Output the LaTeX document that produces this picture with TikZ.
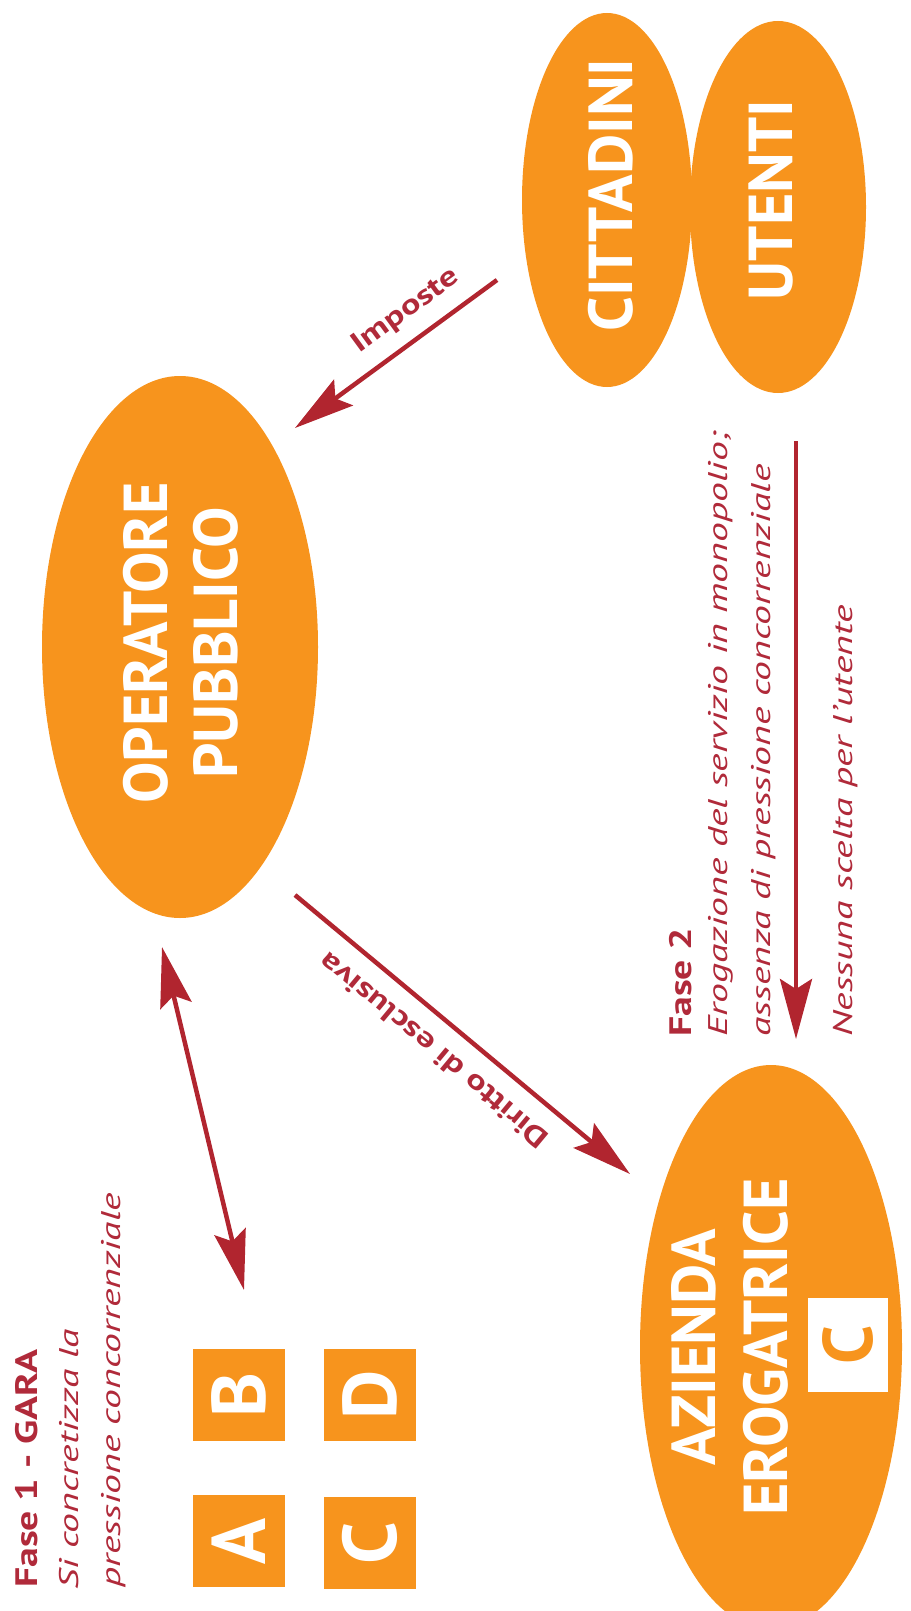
\documentclass[tikz,border=0pt]{standalone}
\usepackage{fontspec}
\setmainfont{PT Sans}
\newfontfamily\phasefont[FakeStretch=1.47]{PT Sans}
\newfontfamily\phaseboldfont[FakeStretch=1.28]{PT Sans}
\newfontfamily\labelfont[FakeStretch=1.3]{PT Sans}
\usetikzlibrary{arrows.meta,shapes.geometric}
\definecolor{orng}{HTML}{F7941D}
\definecolor{dred}{HTML}{B1252F}
\definecolor{tred}{HTML}{B02A3A}
\tikzset{
  blob/.style={ellipse, fill=orng, inner sep=0pt},
  bigtxt/.style={text=white, font=\fontsize{62}{62}\selectfont\bfseries, rotate=90, anchor=base, inner sep=0pt},
  letterbox/.style={fill=orng, text=white, minimum width=92pt, minimum height=92pt, inner sep=0pt, rotate=90, font=\fontsize{76}{76}\selectfont\bfseries},
  conn/.style={draw=dred, line width=4.5pt, -{Stealth[length=60pt,width=32pt,inset=10pt]}},
  conn2/.style={draw=dred, line width=4.5pt, {Stealth[length=60pt,width=32pt,inset=10pt]}-{Stealth[length=60pt,width=32pt,inset=10pt]}},
  lbl/.style={text=tred, font=\labelfont\fontsize{28}{28}\selectfont\bfseries, anchor=base, inner sep=0pt},
  faseb/.style={text=tred, font=\phaseboldfont\fontsize{31}{31}\selectfont\bfseries, rotate=90, anchor=base west, inner sep=0pt},
  fasei/.style={text=tred, font=\phasefont\fontsize{27}{27}\selectfont\itshape, rotate=90, anchor=base west, inner sep=0pt}
}
\begin{document}
\begin{tikzpicture}[x=1pt,y=-1pt]
\useasboundingbox (0,0) rectangle (910,1611);
\clip (0,0) rectangle (910,1611);
% ellipses
\node[blob, minimum width=276pt, minimum height=542pt] (op) at (180,647) {};
\node[blob, minimum width=170pt, minimum height=374pt] (cit) at (607,200) {};
\node[blob, minimum width=176pt, minimum height=372pt] (ute) at (778,207) {};
\node[blob, minimum width=262pt, minimum height=564pt] (az) at (771,1347) {};
% ellipse texts
\node[bigtxt] (opt1) at (167,643) {OPERATORE};
\node[bigtxt] (opt2) at (237,643) {PUBBLICO};
\node[bigtxt] (citt) at (632,195) {CITTADINI};
\node[bigtxt] (utet) at (792,200) {UTENTI};
\node[bigtxt] (azt1) at (715,1347) {AZIENDA};
\node[bigtxt] (azt2) at (787,1347) {EROGATRICE};
\node[fill=white, text=orng, minimum width=94pt, minimum height=80pt, inner sep=0pt, rotate=90, font=\fontsize{70}{70}\selectfont\bfseries] (azc) at (848,1345) {C};
% competitor boxes
\node[letterbox] (bA) at (239,1541) {A};
\node[letterbox] (bB) at (239,1395) {B};
\node[letterbox] (bC) at (370,1543) {C};
\node[letterbox] (bD) at (370,1395) {D};
% connector end points
\coordinate (impS) at (497,280);
\coordinate (impE) at (295,428);
\coordinate (dirS) at (295,895);
\coordinate (dirE) at (630,1174);
\coordinate (garS) at (162,947);
\coordinate (garE) at (244,1290);
\coordinate (eroS) at (796,441);
\coordinate (eroE) at (796,1039);
% connectors
\draw[conn] (impS) -- (impE);
\draw[conn] (dirS) -- (dirE);
\draw[conn2] (garS) -- (garE);
\draw[conn] (eroS) -- (eroE);
% connector labels
\node[lbl, rotate=36.2] (implbl) at (410,317) {Imposte};
\node[lbl, rotate=140.2] (dirlbl) at (440,1043) {Diritto di esclusiva};
% phase texts
\node[faseb] (f1a) at (37,1588) {Fase 1 - GARA};
\node[fasei] (f1b) at (78,1590) {Si concretizza la};
\node[fasei] (f1c) at (120,1588) {pressione concorrenziale};
\node[faseb] (f2a) at (691,1037) {Fase 2};
\node[fasei] (f2b) at (727,1037) {Erogazione del servizio in monopolio;};
\node[fasei] (f2c) at (770,1037) {assenza di pressione concorrenziale};
\node[fasei] (f2d) at (852,1037) {Nessuna scelta per l’utente};
\end{tikzpicture}
\end{document}
